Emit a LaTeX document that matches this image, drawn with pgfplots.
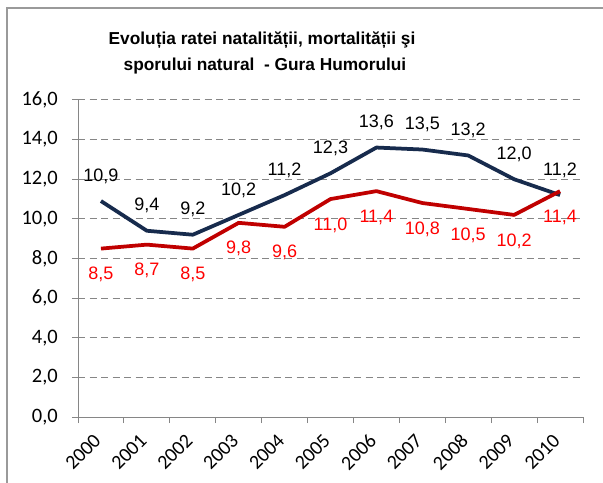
\documentclass[border=0pt]{standalone}
\usepackage{fontspec}
\setmainfont{Liberation Sans}
\newfontfamily\carlito{Carlito}
\usepackage{pgfplots}
\pgfplotsset{compat=1.18}
\definecolor{navyline}{HTML}{172B4D}
\definecolor{redline}{HTML}{C00000}
\definecolor{redtext}{HTML}{FF0000}
\definecolor{axisgray}{HTML}{868686}
\definecolor{framegray}{HTML}{9A9A9A}

\pgfplotstableread{
x y
0 10.9
1 9.4
2 9.2
3 10.2
4 11.2
5 12.3
6 13.6
7 13.5
8 13.2
9 12.0
10 11.2
}\navydata

\pgfplotstableread{
x y
0 8.5
1 8.7
2 8.5
3 9.8
4 9.6
5 11.0
6 11.4
7 10.8
8 10.5
9 10.2
10 11.4
}\reddata

\begin{document}
\begin{tikzpicture}
\useasboundingbox (0,0) rectangle (603bp,483bp);
\fill[white] (0,0) rectangle (603bp,483bp);
\draw[framegray, line width=1.5bp] (7bp,0) -- (7bp,475bp) -- (603bp,475bp);
\node[anchor=base, font=\bfseries\fontsize{17.3bp}{21bp}\selectfont] at (262bp,438bp) {Evoluția ratei natalității, mortalității şi};
\node[anchor=base, font=\bfseries\fontsize{17.3bp}{21bp}\selectfont] at (265bp,412.3bp) {sporului natural\ \ - Gura Humorului};
\begin{axis}[
  at={(78bp,66bp)}, anchor=south west,
  scale only axis, width=505bp, height=317bp,
  xmin=-0.5, xmax=10.5, ymin=0, ymax=16,
  axis x line*=bottom, axis y line*=left,
  axis line style={axisgray, line width=1bp},
  clip=false,
  xtick={0,...,10},
  xticklabels={2000,2001,2002,2003,2004,2005,2006,2007,2008,2009,2010},
  minor xtick={-0.5,0.5,1.5,2.5,3.5,4.5,5.5,6.5,7.5,8.5,9.5,10.5},
  major x tick style={draw=none},
  minor x tick style={axisgray, line width=1bp},
  y tick style={axisgray, line width=1bp},
  tick align=outside,
  major tick length=6bp, minor tick length=6bp,
  ytick={0,2,...,16},
  ymajorgrids,
  major y grid style={axisgray, line width=1bp, dash pattern=on 7bp off 4.5bp},
  x tick label style={font=\carlito\fontsize{20bp}{24bp}\selectfont, xshift=-3.5bp, yshift=-14.5bp, rotate=45, anchor=east, inner sep=0pt},
  y tick label style={font=\carlito\fontsize{20.5bp}{24bp}\selectfont, anchor=east, inner sep=0pt, xshift=-14bp,
    /pgf/number format/.cd, fixed, fixed zerofill, precision=1, use comma, assume math mode=true},
  /pgf/number format/assume math mode=true,
]
\addplot[navyline, line width=3.75bp, line join=round,
  point meta=y,
  nodes near coords={\pgfmathprintnumber[fixed, fixed zerofill, precision=1, use comma, assume math mode=true]{\pgfplotspointmeta}},
  every node near coord/.append style={anchor=center, yshift=25bp, black, inner sep=0pt, font=\fontsize{18bp}{21bp}\selectfont}]
  table[x=x, y=y] {\navydata};
\addplot[redline, line width=3.75bp, line join=round,
  point meta=y,
  nodes near coords={\pgfmathprintnumber[fixed, fixed zerofill, precision=1, use comma, assume math mode=true]{\pgfplotspointmeta}},
  every node near coord/.append style={anchor=center, yshift=-26bp, redtext, inner sep=0pt, font=\fontsize{18bp}{21bp}\selectfont}]
  table[x=x, y=y] {\reddata};
\end{axis}
\end{tikzpicture}
\end{document}
